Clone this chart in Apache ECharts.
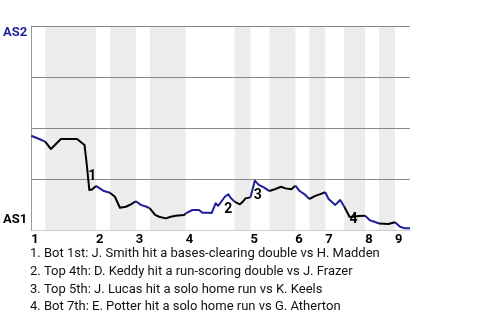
<!DOCTYPE html>
<html>
<head>
<meta charset="utf-8">
<script src="https://cdn.jsdelivr.net/npm/echarts@6/dist/echarts.min.js"></script>
<style>html,body{margin:0;padding:0;background:#fff}#c{width:480px;height:320px}</style>
</head>
<body>
<div id="c"></div>
<script>
// Game progress (x) and AS2 win probability in % (y)
const eventX = [0,4,7,9.9,14.9,18.5,23,26.75,28,29.15,30.5,32.5,36.5,39.5,42,44.5,47.5,50,52.5,55,57.85,59.5,62.15,64.15,67.5,70,72.5,76.65,77.5,80.85,84.15,85.85,89.15,90.5,92.5,93.85,97.15,98.85,100,102,104.65,106.15,107.5,110,112.15,114.15,116.65,119.5,122.5,125.35,127.5,130.5,132.5,134.65,137.15,139.5,142.5,145,147.5,149.15,152.5,155,157,159.65,162,164.15,167.5,170,172.5,174.5,179.15,182.5,185,187.5,190];
const wpAS2 = [46.2,44.6,43.3,39.7,44.6,44.6,44.6,41.7,30.9,19.6,19.9,21.6,19.1,18.3,16.3,10.9,11.4,12.6,14.1,12.3,11.4,10.6,7.4,6.5,5.7,6.5,7.0,7.4,8.1,9.8,9.8,8.5,8.5,8.3,13.1,11.9,16.3,17.5,15.8,13.9,12.6,13.9,15.5,16.0,24.2,22.1,20.9,19.1,20.1,21.2,20.4,20.0,21.7,19.1,17.5,15.2,16.7,17.6,18.5,15.2,12.3,14.7,11.5,6.5,6.5,6.9,7.0,4.7,3.9,3.2,2.9,3.8,1.6,0.8,0.8];
// half-inning starts (top 1st, bot 1st, top 2nd, ...) and game end
const halfStarts = [0,7,32.5,39.5,52.5,59.5,77.5,102,110,119.5,132.5,139.5,147.5,157,167.5,174.5,182.5];
const gameEnd = 190;
const inningLabels = ['1','2','3','4','5','6','7','8','9'];
const teamLabels = ['AS1','AS2'];
// key events: index into data, number
const keyIdx = [9, 37, 44, 63];
const keyNum = ['1','2','3','4'];
const notes = [
  '1. Bot 1st: J. Smith hit a bases-clearing double vs H. Madden',
  '2. Top 4th: D. Keddy hit a run-scoring double vs J. Frazer',
  '3. Top 5th: J. Lucas hit a solo home run vs K. Keels',
  '4. Bot 7th: E. Potter hit a solo home run vs G. Atherton'
];

const BLUE = '#1f1f9c', BLACK = '#000';
const labelOffsets = [[3,-14],[0,15],[3,15],[4,3]];

const halfEnd = i => i < halfStarts.length-1 ? halfStarts[i+1] : gameEnd;
const bands = [];
halfStarts.forEach((s,i) => { if (i % 2 === 1) bands.push([{xAxis: s}, {xAxis: halfEnd(i)}]); });
const topStarts = halfStarts.filter((s,i) => i % 2 === 0);

// one line series per half-inning (blue = top half, black = bottom half)
const lineSeries = halfStarts.map((s,i) => {
  const e = halfEnd(i);
  const pts = [];
  eventX.forEach((x,k) => {
    if (x >= s && x <= e) {
      if (pts.length === 0 && k > 0 && x > s) pts.push([eventX[k-1], wpAS2[k-1]]);
      pts.push([x, wpAS2[k]]);
    }
  });
  return {
    type: 'line', z: 5, symbol: 'none', silent: true,
    data: pts,
    lineStyle: {width: 2, color: i % 2 === 0 ? BLUE : BLACK, join: 'round'}
  };
});

const chart = echarts.init(document.getElementById('c'), null, {renderer: 'canvas'});
chart.setOption({
  animation: false,
  backgroundColor: '#fff',
  textStyle: {fontFamily: 'Roboto'},
  title: {
    text: notes.join('\n'),
    left: 30, top: 245, padding: 0,
    textStyle: {fontFamily: "'Liberation Sans Narrow', Roboto", fontSize: 13, fontWeight: 'normal', color: '#111', lineHeight: 17.7}
  },
  grid: {left: 30, top: 26, right: 70, bottom: 90},
  xAxis: {
    type: 'value', min: 0, max: gameEnd,
    splitLine: {show: false},
    axisTick: {show: false},
    axisLine: {show: true, lineStyle: {color: '#ccc'}},
    axisLabel: {
      customValues: topStarts,
      formatter: v => inningLabels[topStarts.indexOf(v)] || '',
      align: 'left', margin: 3, fontSize: 13, fontWeight: 'bold', color: '#000', fontFamily: 'Roboto'
    }
  },
  yAxis: {
    type: 'value', min: 0, max: 100, interval: 25, z: 3,
    axisLine: {show: true, lineStyle: {color: '#999'}},
    axisTick: {show: false},
    splitLine: {show: true, lineStyle: {color: ['#ccc','#888','#888','#888','#888'], width: 1}},
    axisLabel: {
      customValues: [4.9, 96.6],
      formatter: v => v < 50 ? '{a|' + teamLabels[0] + '}' : '{b|' + teamLabels[1] + '}',
      margin: 4,
      rich: {
        a: {fontSize: 13, fontWeight: 'bold', color: '#000', fontFamily: 'Roboto'},
        b: {fontSize: 13, fontWeight: 'bold', color: BLUE, fontFamily: 'Roboto'}
      }
    }
  },
  series: [
    {
      type: 'line', z: 1, data: [[0,0]], symbol: 'none', lineStyle: {width: 0}, silent: true,
      markArea: {silent: true, itemStyle: {color: '#ececec', opacity: 1}, data: bands}
    }
  ].concat(lineSeries).concat([
    {
      type: 'scatter', z: 6, symbolSize: 0, silent: true,
      data: keyIdx.map((idx,k) => ({
        value: [eventX[idx], wpAS2[idx]],
        label: {show: true, formatter: keyNum[k], position: 'inside', offset: labelOffsets[k],
                fontSize: 14, fontWeight: 'bold', color: '#000', fontFamily: 'Roboto',
                textBorderWidth: 0, opacity: 1}
      }))
    }
  ])
});
</script>
</body>
</html>
